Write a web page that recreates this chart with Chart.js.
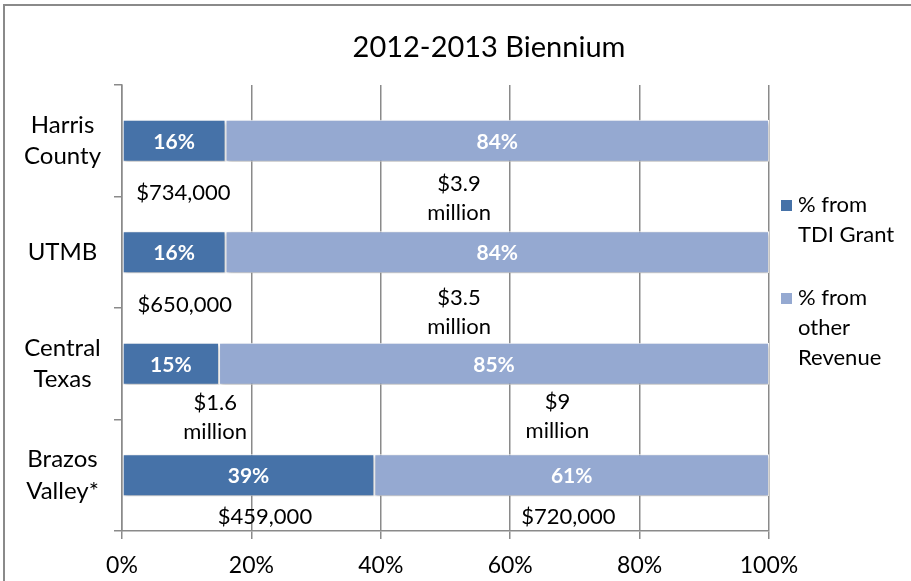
<!DOCTYPE html>
<html>
<head>
<meta charset="utf-8">
<script src="https://cdn.jsdelivr.net/npm/chart.js@4"></script>
<style>
  html, body { margin: 0; padding: 0; background: #fff; overflow: hidden; }
  #wrap { position: relative; width: 911px; height: 581px; }
  #frame { position: absolute; left: 3px; top: 4px; width: 1000px; height: 1000px; border: 2px solid #8a8a8a; pointer-events: none; }
  canvas { position: absolute; left: 0; top: 0; }
</style>
</head>
<body>
<div id="wrap">
  <canvas id="chart" width="911" height="581"></canvas>
  <div id="frame"></div>
</div>
<script>
// values
const categories = [["Harris", "County"], "UTMB", ["Central", "Texas"], ["Brazos", "Valley*"]];
const tdiShare = [16, 16, 15, 39];
const otherShare = [84, 84, 85, 61];
const tdiAmount = ["$734,000", "$650,000", "$1.6 million", "$459,000"];
const otherAmount = ["$3.9 million", "$3.5 million", "$9 million", "$720,000"];
const xTicks = [0, 20, 40, 60, 80, 100];
const seriesNames = [["% from", "TDI Grant"], ["% from", "other", "Revenue"]];
const titleText = "2012-2013 Biennium";

const DARK = "#4672a8";
const LIGHT = "#95a9d1";
const FONT = "Lato, 'Open Sans', sans-serif";

// where the dollar notes sit: x in axis %, y offset from bar centre (px)
const tdiSpot = [9.5, 9.7, 14.4, 22.1];
const otherSpot = [52.1, 52.1, 67.3, 69.0];
const tdiDy = [52, 53, 54, 42];
const otherDy = [58, 60, 53, 42];

const barShadow = {
  id: "barShadow",
  beforeDatasetsDraw(chart) {
    const ctx = chart.ctx;
    ctx.save();
    ctx.shadowColor = "rgba(0,0,0,0.28)";
    ctx.shadowBlur = 4;
    ctx.shadowOffsetX = 1;
    ctx.shadowOffsetY = 2;
  },
  afterDatasetsDraw(chart) {
    chart.ctx.restore();
  }
};

const notes = {
  id: "notes",
  afterDatasetsDraw(chart) {
    const ctx = chart.ctx;
    const x = chart.scales.x;
    ctx.save();
    ctx.textAlign = "center";
    ctx.textBaseline = "middle";

    // percent labels inside the bars
    ctx.font = "bold 21px " + FONT;
    ctx.fillStyle = "#fff";
    chart.data.datasets.forEach((ds, di) => {
      chart.getDatasetMeta(di).data.forEach((bar, i) => {
        const left = Math.min(bar.x, bar.base), right = Math.max(bar.x, bar.base);
        ctx.fillText(ds.data[i] + "%", (left + right) / 2, bar.y + 1);
      });
    });

    // dollar amounts under each bar
    ctx.font = "22px " + FONT;
    ctx.fillStyle = "#000";
    const lh = 29;
    const put = (txt, spot, dy, i) => {
      const lines = txt.split(" ");
      const cy = chart.getDatasetMeta(0).data[i].y + dy;
      const top = cy - (lines.length - 1) * lh / 2;
      lines.forEach((ln, k) => ctx.fillText(ln, x.getPixelForValue(spot), top + k * lh));
    };
    categories.forEach((c, i) => {
      put(tdiAmount[i], tdiSpot[i], tdiDy[i], i);
      put(otherAmount[i], otherSpot[i], otherDy[i], i);
    });
    ctx.restore();
  },
  afterDraw(chart) {
    const ctx = chart.ctx;
    ctx.save();
    // title, centred on the whole frame like the original
    ctx.font = "29px " + FONT;
    ctx.fillStyle = "#000";
    ctx.textAlign = "center";
    ctx.textBaseline = "middle";
    ctx.fillText(titleText, 489, 48);

    // legend on the right, names wrapped like the original
    ctx.font = "22px " + FONT;
    ctx.textAlign = "left";
    const starts = [205, 298];
    chart.data.datasets.forEach((ds, di) => {
      const y0 = starts[di];
      ctx.fillStyle = ds.backgroundColor;
      ctx.fillRect(781, y0 - 5, 11, 11);
      ctx.fillStyle = "#000";
      seriesNames[di].forEach((ln, k) => ctx.fillText(ln, 798, y0 + k * 30));
    });
    ctx.restore();
  }
};

new Chart(document.getElementById("chart"), {
  type: "bar",
  data: {
    labels: categories,
    datasets: [
      { label: seriesNames[0].join(" "), data: tdiShare, backgroundColor: DARK, borderColor: "#fff", borderWidth: 1, borderSkipped: false },
      { label: seriesNames[1].join(" "), data: otherShare, backgroundColor: LIGHT, borderColor: "#fff", borderWidth: 1, borderSkipped: false }
    ]
  },
  options: {
    indexAxis: "y",
    responsive: false,
    animation: false,
    devicePixelRatio: 1,
    layout: { padding: { left: 0, right: 142, top: 85, bottom: 0 } },
    datasets: { bar: { barPercentage: 0.376, categoryPercentage: 1 } },
    plugins: {
      legend: { display: false },
      tooltip: { enabled: false },
      title: { display: false }
    },
    scales: {
      x: {
        stacked: true,
        min: 0,
        max: 100,
        afterBuildTicks(scale) { scale.ticks = xTicks.map(v => ({ value: v })); },
        afterFit(scale) { scale.height = 50; },
        grid: { color: "#8a8a8a", lineWidth: 1.5, tickLength: 8, drawTicks: true },
        border: { color: "#8a8a8a", width: 1.5 },
        ticks: {
          color: "#000",
          padding: 13,
          font: { family: FONT, size: 23 },
          callback: v => v + "%"
        }
      },
      y: {
        stacked: true,
        afterFit(scale) { scale.width = 122; },
        grid: { offset: true, drawOnChartArea: false, drawTicks: true, tickLength: 8, color: "#8a8a8a", lineWidth: 1.5 },
        border: { color: "#8a8a8a", width: 1.5 },
        ticks: {
          color: "#000",
          crossAlign: "center",
          padding: 13,
          font: { family: FONT, size: 24, lineHeight: 1.3 }
        }
      }
    }
  },
  plugins: [barShadow, notes]
});
</script>
</body>
</html>
